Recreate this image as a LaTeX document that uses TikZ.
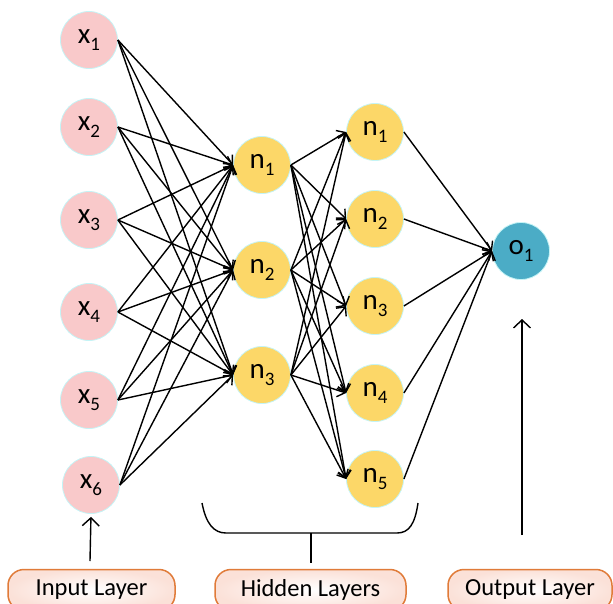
\documentclass[tikz,border=0pt]{standalone}
\usepackage{fontspec}
\setmainfont{Carlito}
\usetikzlibrary{arrows.meta}
\definecolor{inpink}{HTML}{F9C9CA}
\definecolor{hidyel}{HTML}{FCD768}
\definecolor{outteal}{HTML}{4BACC6}
\definecolor{rimcyan}{HTML}{C4F4F6}
\definecolor{boxorange}{HTML}{E07B39}
\definecolor{boxpink}{HTML}{FBE1D8}
\newcommand{\nsub}[1]{\raisebox{-0.22em}{\fontsize{19}{19}\selectfont #1}}
\begin{document}
\begin{tikzpicture}[x=1pt,y=-1pt,
  neuron/.style={circle,minimum size=57pt,inner sep=0pt,draw=rimcyan,line width=0.8pt,
                 font=\fontsize{29}{31}\selectfont},
  inp/.style={neuron,fill=inpink},
  hid/.style={neuron,fill=hidyel},
  outn/.style={neuron,fill=outteal},
  conn/.style={line width=1.4pt,-{Straight Barb[length=7pt,width=13pt]}},
  uparrow/.style={line width=1.4pt,-{Straight Barb[length=8pt,width=17pt]}},
  plainline/.style={line width=1.4pt},
  layerbox/.style={draw=boxorange,line width=1.5pt,rounded corners=16pt,
                   inner color=white,outer color=boxpink,minimum height=41pt,
                   inner sep=0pt,font=\fontsize{24.5}{27}\selectfont}
]
\useasboundingbox (0,0) rectangle (613,603);
\clip (0,0) rectangle (613,603);

% input layer
\foreach \i/\px/\py in {1/89/40,2/89/127,3/89/220,4/89/312,5/89/400,6/91/485}
  \node[inp] (x\i) at (\px,\py) {x\nsub{\i}};
% hidden layer 1
\foreach \i/\py in {1/165,2/270,3/375}
  \node[hid] (a\i) at (262,\py) {n\nsub{\i}};
% hidden layer 2
\foreach \i/\py in {1/132,2/219,3/306,4/393,5/479}
  \node[hid] (b\i) at (375,\py) {n\nsub{\i}};
% output
\node[outn] (o1) at (521,251) {o\nsub{1}};

% connections
\foreach \i in {1,...,6}
  \foreach \j in {1,2,3}
    \draw[conn] (x\i.east) -- (a\j.west);
\foreach \i in {1,2,3}
  \foreach \j in {1,...,5}
    \draw[conn] (a\i.east) -- (b\j.west);
\foreach \j in {1,...,5}
  \draw[conn] (b\j.east) -- (o1.west);

% bottom labels
\node[layerbox,minimum width=167pt] (inbox) at (91.5,590) {Input Layer};
\node[layerbox,minimum width=191pt] (hidbox) at (310.5,590) {Hidden Layers};
\node[layerbox,minimum width=164pt] (outbox) at (530,590) {Output Layer};

% pointers
\coordinate (inbase) at (90,561);
\draw[uparrow,shorten >=3pt] (inbase) -- (x6.south);
\coordinate (outbase) at (522,535);
\coordinate (outtip) at (522,319);
\draw[uparrow] (outbase) -- (outtip);

% bracket for hidden layers
\coordinate (brL) at (202,503);
\coordinate (brR) at (418,503);
\coordinate (brmid) at (311,533);
\coordinate (stemend) at (311,563);
\draw[plainline] (brL) .. controls (206,524) and (214,533) .. (226,533)
  -- (397,533) .. controls (409,533) and (415,524) .. (brR);
\draw[plainline] (brmid) -- (stemend);
\end{tikzpicture}
\end{document}
